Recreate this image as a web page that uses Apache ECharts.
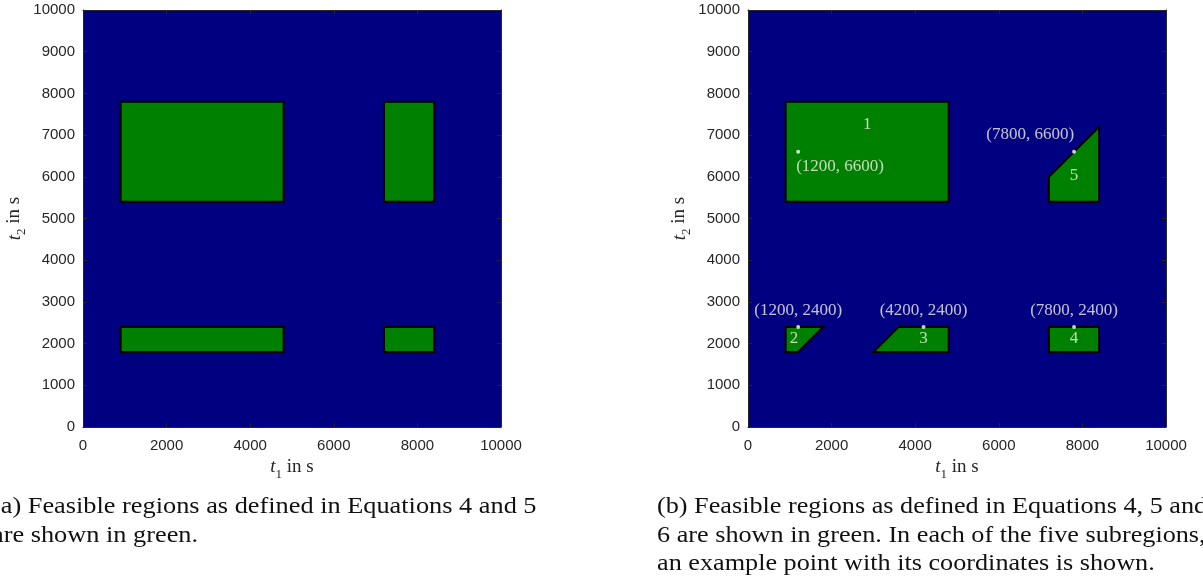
<!DOCTYPE html>
<html>
<head>
<meta charset="utf-8">
<script src="https://cdn.jsdelivr.net/npm/echarts@6/dist/echarts.min.js"></script>
<style>
html,body{margin:0;padding:0;background:#fff;}
#c{width:1203px;height:581px;}
</style>
</head>
<body>
<div id="c"></div>
<script>
// ---- data ----
const axisMin = 0;
const axisMax = 10000;
const xTicks = [0, 2000, 4000, 6000, 8000, 10000];
const yTicks = [0, 1000, 2000, 3000, 4000, 5000, 6000, 7000, 8000, 9000, 10000];

// (a) feasible regions: polygons as [t1, t2] vertices
const regionsA = [
  [[900, 5400], [4800, 5400], [4800, 7800], [900, 7800]],
  [[7200, 5400], [8400, 5400], [8400, 7800], [7200, 7800]],
  [[900, 1800], [4800, 1800], [4800, 2400], [900, 2400]],
  [[7200, 1800], [8400, 1800], [8400, 2400], [7200, 2400]]
];

// (b) feasible subregions
const regionsB = [
  [[900, 5400], [4800, 5400], [4800, 7800], [900, 7800]],
  [[900, 1800], [1200, 1800], [1800, 2400], [900, 2400]],
  [[3000, 1800], [4800, 1800], [4800, 2400], [3600, 2400]],
  [[7200, 1800], [8400, 1800], [8400, 2400], [7200, 2400]],
  [[7200, 5400], [8400, 5400], [8400, 7200], [7200, 6000]]
];

// subregion number labels [t1, t2, text]
const regionLabels = [
  [2850, 7250, '1'],
  [1100, 2110, '2'],
  [4200, 2110, '3'],
  [7800, 2110, '4'],
  [7800, 6030, '5']
];

// example points [t1, t2]
const examplePoints = [
  [1200, 6600],
  [1200, 2400],
  [4200, 2400],
  [7800, 2400],
  [7800, 6600]
];
// label placement for each example point
const pointLabelPos = ['belowRight', 'above', 'above', 'above', 'aboveLeft'];

const captionA = '(a) Feasible regions as defined in Equations 4 and 5\nare shown in green.';
const captionB = '(b) Feasible regions as defined in Equations 4, 5 and\n6 are shown in green. In each of the five subregions,\nan example point with its coordinates is shown.';

// ---- styles ----
const SERIF = '"Liberation Serif", "Times New Roman", serif';
const SANS = '"Liberation Sans", Arial, Helvetica, sans-serif';
const AX = '#262626';
const BLUE = '#000080';
const GREEN = '#008000';
const LIGHT = '#f4f1e6';

function nameStyle() {
  return {
    color: AX,
    fontFamily: SERIF,
    fontSize: 19,
    rich: {
      i: {fontFamily: SERIF, fontStyle: 'italic', fontSize: 19, lineHeight: 23, verticalAlign: 'top', color: AX},
      s: {fontFamily: SERIF, fontSize: 13, lineHeight: 13, verticalAlign: 'bottom', color: AX},
      n: {fontFamily: SERIF, fontSize: 19, lineHeight: 23, verticalAlign: 'top', color: AX}
    }
  };
}

function mkX(gi, pos, labels) {
  return {
    type: 'value', gridIndex: gi, position: pos, min: axisMin, max: axisMax, interval: 2000,
    axisLine: {show: true, onZero: false, lineStyle: {color: AX, width: 1}},
    axisTick: {show: true, inside: true, length: 4, lineStyle: {color: AX, width: 1}},
    axisLabel: {show: labels, color: AX, fontFamily: SANS, fontSize: 15, margin: 11,
      customValues: xTicks, formatter: v => String(v)},
    splitLine: {show: false},
    name: labels ? '{i|t}{s|1}{n| in s}' : '',
    nameLocation: 'middle', nameGap: 29,
    nameTextStyle: nameStyle()
  };
}
function mkY(gi, pos, labels) {
  return {
    type: 'value', gridIndex: gi, position: pos, min: axisMin, max: axisMax, interval: 1000,
    axisLine: {show: true, onZero: false, lineStyle: {color: AX, width: 1}},
    axisTick: {show: true, inside: true, length: 4, lineStyle: {color: AX, width: 1}},
    axisLabel: {show: labels, color: AX, fontFamily: SANS, fontSize: 15, margin: 8,
      customValues: yTicks, formatter: v => String(v)},
    splitLine: {show: false},
    name: labels ? '{i|t}{s|2}{n| in s}' : '',
    nameLocation: 'middle', nameGap: 55, nameRotate: 90,
    nameTextStyle: nameStyle()
  };
}

function polySeries(regions, axi) {
  return {
    type: 'custom', xAxisIndex: axi, yAxisIndex: axi, clip: true, silent: true,
    data: regions.map((r, i) => [r[0][0], r[0][1], i]),
    encode: {x: 0, y: 1},
    renderItem: function (params, api) {
      const poly = regions[api.value(2)];
      const pts = poly.map(p => api.coord(p));
      return {
        type: 'polygon',
        shape: {points: pts},
        style: {fill: GREEN, stroke: '#000', lineWidth: 2, lineJoin: 'miter'}
      };
    }
  };
}

function pointLabel(pos) {
  const base = {show: true, color: LIGHT, fontFamily: SERIF, fontSize: 17,
    formatter: p => '(' + p.value[0] + ', ' + p.value[1] + ')'};
  if (pos === 'above') return Object.assign(base, {position: 'top', distance: 6});
  if (pos === 'belowRight') return Object.assign(base, {position: [0, 8], align: 'left', verticalAlign: 'top'});
  return Object.assign(base, {position: [2, -7], align: 'right', verticalAlign: 'bottom'});
}

const option = {
  animation: false,
  backgroundColor: '#ffffff',
  grid: [
    {left: 83, top: 10, width: 418, height: 417, show: true, backgroundColor: BLUE, borderWidth: 0},
    {left: 748, top: 10, width: 418, height: 417, show: true, backgroundColor: BLUE, borderWidth: 0}
  ],
  xAxis: [mkX(0, 'bottom', true), mkX(1, 'bottom', true), mkX(0, 'top', false), mkX(1, 'top', false)],
  yAxis: [mkY(0, 'left', true), mkY(1, 'left', true), mkY(0, 'right', false), mkY(1, 'right', false)],
  series: [
    polySeries(regionsA, 0),
    polySeries(regionsB, 1),
    {
      type: 'scatter', xAxisIndex: 1, yAxisIndex: 1, silent: true,
      symbol: 'circle', symbolSize: 4,
      itemStyle: {color: '#ffffff'},
      data: examplePoints.map((p, i) => ({value: p, label: pointLabel(pointLabelPos[i])}))
    },
    {
      type: 'scatter', xAxisIndex: 1, yAxisIndex: 1, silent: true,
      symbolSize: 0,
      label: {show: true, position: 'inside', color: LIGHT, fontFamily: SERIF, fontSize: 17,
        formatter: p => p.value[2]},
      data: regionLabels
    }
  ],
  graphic: [
    {type: 'text', x: -8, y: 493, scaleX: 1.12, style: {text: captionA, fill: '#111', font: '23.5px ' + SERIF, lineHeight: 28.5}},
    {type: 'text', x: 657, y: 493, scaleX: 1.115, style: {text: captionB, fill: '#111', font: '23.5px ' + SERIF, lineHeight: 28.5}}
  ]
};

const chart = echarts.init(document.getElementById('c'), null, {renderer: 'canvas'});
chart.setOption(option);
</script>
</body>
</html>
